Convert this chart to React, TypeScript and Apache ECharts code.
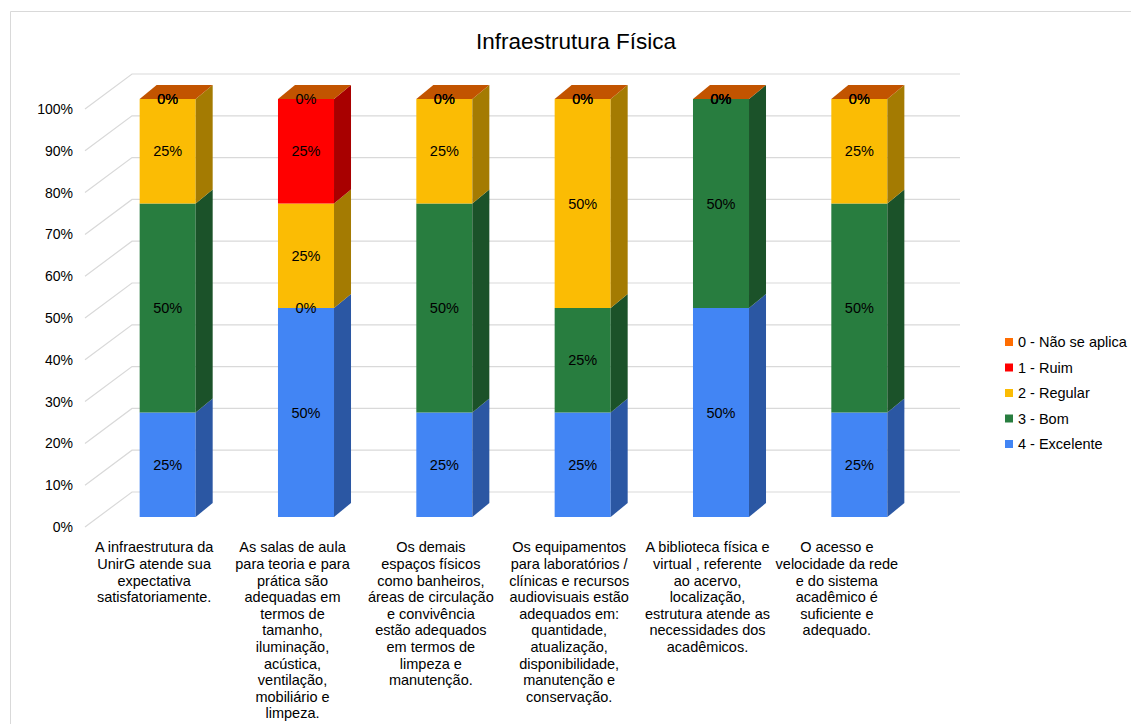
import React, { useEffect, useRef } from "react";
import * as echarts from "echarts";

const title = "Infraestrutura Física";
const categories = [
  "A infraestrutura da\nUnirG atende sua\nexpectativa\nsatisfatoriamente.",
  "As salas de aula\npara teoria e para\nprática são\nadequadas em\ntermos de\ntamanho,\niluminação,\nacústica,\nventilação,\nmobiliário e\nlimpeza.",
  "Os demais\nespaços físicos\ncomo banheiros,\náreas de circulação\ne convivência\nestão adequados\nem termos de\nlimpeza e\nmanutenção.",
  "Os equipamentos\npara laboratórios /\nclínicas e recursos\naudiovisuais estão\nadequados em:\nquantidade,\natualização,\ndisponibilidade,\nmanutenção e\nconservação.",
  "A biblioteca física e\nvirtual , referente\nao acervo,\nlocalização,\nestrutura atende as\nnecessidades dos\nacadêmicos.",
  "O acesso e\nvelocidade da rede\ne do sistema\nacadêmico é\nsuficiente e\nadequado.",
];

const seriesNames = ["4 - Excelente", "3 - Bom", "2 - Regular", "1 - Ruim", "0 - Não se aplica"];
const excelente = [0.25, 0.5, 0.25, 0.25, 0.5, 0.25];
const bom = [0.5, 0, 0.5, 0.25, 0.5, 0.5];
const regular = [0.25, 0.25, 0.25, 0.5, 0, 0.25];
const ruim = [0, 0.25, 0, 0, 0, 0];
const naoSeAplica = [0, 0, 0, 0, 0, 0];
const seriesValues = [excelente, bom, regular, ruim, naoSeAplica];
const yTicks = [0, 0.1, 0.2, 0.3, 0.4, 0.5, 0.6, 0.7, 0.8, 0.9, 1];

const frontColors = ["#4285F4", "#287D3F", "#FBBC04", "#FF0000", "#FF6D01"];
const sideColors = ["#2B57A3", "#1B5229", "#A47B02", "#A80000", "#A84800"];
const topColor = "#C25400";

const FONT = "'Liberation Sans', Arial, sans-serif";
const OX = 13.5; // front face offset from front plane
const OY = -10;
const DX = 17; // bar depth
const DY = -14;
const WX = 47; // wall depth
const WY = -35;

export default function App() {
  const ref = useRef<HTMLDivElement>(null);
  useEffect(() => {
    if (!ref.current) return;
    const chart = echarts.init(ref.current, undefined, { renderer: "svg" });

    const stacks: number[][] = [];
    seriesValues.forEach((vals, k) => {
      stacks.push(vals.map((v, i) => (k === 0 ? 0 : stacks[k - 1][i] + seriesValues[k - 1][i])));
    });

    const barSeries = seriesValues.map((vals, k) => ({
      type: "custom",
      name: seriesNames[k],
      itemStyle: { color: frontColors[k] },
      z: 3,
      encode: { x: 0, y: 2 },
      data: vals.map((v, i) => [i, stacks[k][i], stacks[k][i] + v]),
      renderItem: (params: any, api: any) => {
        const i = api.value(0);
        const base = api.value(1);
        const top = api.value(2);
        const c = api.coord([i, base]);
        const t = api.coord([i, top]);
        const bandW = api.size([1, 0])[0];
        const barW = bandW * 0.405;
        const x0 = c[0] - barW / 2 + OX;
        const x1 = x0 + barW;
        const yb = c[1] + OY;
        const yt = t[1] + OY;
        const children: any[] = [];
        if (yb - yt > 0.01) {
          children.push({
            type: "rect",
            shape: { x: x0, y: yt, width: barW, height: yb - yt },
            style: { fill: frontColors[k] },
          });
          children.push({
            type: "polygon",
            shape: { points: [[x1, yb], [x1 + DX, yb + DY], [x1 + DX, yt + DY], [x1, yt]] },
            style: { fill: sideColors[k] },
          });
        }
        if (k === seriesValues.length - 1) {
          children.push({
            type: "polygon",
            shape: { points: [[x0, yt], [x0 + DX, yt + DY], [x1 + DX, yt + DY], [x1, yt]] },
            style: { fill: topColor },
          });
        }
        return { type: "group", children };
      },
    }));

    const labelData: number[][] = [];
    seriesValues.forEach((vals, k) => {
      vals.forEach((v, i) => labelData.push([i, stacks[k][i] + v / 2, v]));
    });

    const xData = categories.map((c, i) =>
      i === categories.length - 1
        ? { value: c, textStyle: { padding: [0, 18, 0, 0] } }
        : c
    );

    const option: any = {
      animation: false,
      backgroundColor: "#ffffff",
      title: {
        text: title,
        left: 571,
        top: 25,
        textAlign: "center",
        textStyle: { fontFamily: FONT, fontSize: 22.5, fontWeight: "normal", color: "#000" },
      },
      graphic: [
        {
          type: "rect",
          shape: { x: 10.5, y: 11.5, width: 1200, height: 800 },
          style: { fill: "none", stroke: "#D9D9D9", lineWidth: 1 },
          silent: true,
        },
      ],
      legend: {
        orient: "vertical",
        left: 1000,
        top: 329,
        itemWidth: 8,
        itemHeight: 8,
        itemGap: 9.5,
        icon: "rect",
        data: seriesNames.slice().reverse(),
        textStyle: { fontFamily: FONT, fontSize: 14.5, color: "#000", lineHeight: 16 },
      },
      grid: { left: 85, top: 109, width: 830, height: 418, containLabel: false },
      xAxis: {
        type: "category",
        data: xData,
        axisLine: { show: false },
        axisTick: { show: false },
        splitLine: { show: false },
        axisLabel: {
          interval: 0,
          fontFamily: FONT,
          fontSize: 14.5,
          lineHeight: 16.6,
          color: "#000",
          margin: 12,
          align: "center",
        },
      },
      yAxis: {
        type: "value",
        min: 0,
        max: 1,
        interval: 0.1,
        axisLine: { show: false },
        axisTick: { show: false },
        splitLine: { show: false },
        axisLabel: {
          fontFamily: FONT,
          fontSize: 14,
          color: "#000",
          margin: 12,
          formatter: (v: number) => Math.round(v * 100) + "%",
        },
      },
      series: [
        {
          type: "custom",
          z: 1,
          silent: true,
          encode: { x: 0, y: 1 },
          data: yTicks.map((v) => [0, v]),
          renderItem: (params: any, api: any) => {
            const cs = params.coordSys;
            const y = api.coord([0, api.value(1)])[1];
            return {
              type: "polyline",
              shape: {
                points: [
                  [cs.x, y],
                  [cs.x + WX, y + WY],
                  [cs.x + cs.width + WX - 2, y + WY],
                ],
              },
              style: { stroke: "#D9D9D9", lineWidth: 1.2, fill: "none" },
            };
          },
        },
        ...barSeries,
        {
          type: "custom",
          z: 5,
          silent: true,
          encode: { x: 0, y: 1 },
          data: labelData,
          renderItem: (params: any, api: any) => {
            const p = api.coord([api.value(0), api.value(1)]);
            return {
              type: "text",
              x: p[0] + OX,
              y: p[1] + OY,
              style: {
                text: Math.round(api.value(2) * 100) + "%",
                fill: "#000",
                font: "14.5px " + FONT,
                align: "center",
                verticalAlign: "middle",
              },
            };
          },
        },
      ],
    };
    chart.setOption(option);
    return () => chart.dispose();
  }, []);

  return (
    <div
      ref={ref}
      style={{ position: "absolute", left: 0, top: 0, width: 1131, height: 724 }}
    />
  );
}
